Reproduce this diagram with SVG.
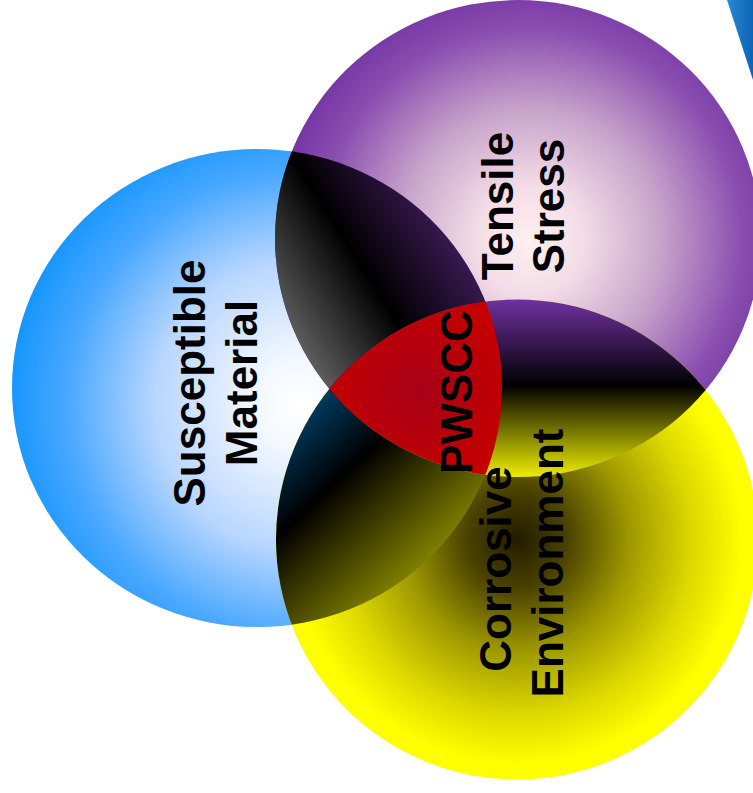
<svg xmlns="http://www.w3.org/2000/svg" width="753" height="793" viewBox="0 0 753 793">
  <style>
    .label { font-family: "Liberation Sans", Arial, Helvetica, sans-serif; font-weight: bold; font-size: 44px; fill: #000; text-anchor: middle; }
  </style>
  <defs>
    <!-- circle fills -->
    <radialGradient id="gBlue" gradientUnits="userSpaceOnUse" cx="300" cy="405" r="290">
      <stop offset="0" stop-color="#ffffff"/>
      <stop offset="0.15" stop-color="#f4f8ff"/>
      <stop offset="0.5" stop-color="#b8d6ff"/>
      <stop offset="0.8" stop-color="#4aa8ff"/>
      <stop offset="1" stop-color="#1696ff"/>
    </radialGradient>
    <radialGradient id="gPurple" gradientUnits="userSpaceOnUse" cx="530" cy="240" r="265">
      <stop offset="0" stop-color="#fff0f0"/>
      <stop offset="0.2" stop-color="#f4dde6"/>
      <stop offset="0.5" stop-color="#c6a2ca"/>
      <stop offset="0.8" stop-color="#8a4eb0"/>
      <stop offset="1" stop-color="#7030a0"/>
    </radialGradient>
    <radialGradient id="gYellow" gradientUnits="userSpaceOnUse" cx="517" cy="539" r="250">
      <stop offset="0" stop-color="#221c00"/>
      <stop offset="0.2" stop-color="#4a4200"/>
      <stop offset="0.45" stop-color="#9e9800"/>
      <stop offset="0.7" stop-color="#dcd800"/>
      <stop offset="0.9" stop-color="#ffff00"/>
    </radialGradient>
    <!-- overlap fills -->
    <linearGradient id="gBP" gradientUnits="userSpaceOnUse" x1="263" y1="287" x2="423" y2="185">
      <stop offset="0" stop-color="#5c5c5c"/>
      <stop offset="0.5" stop-color="#000000"/>
      <stop offset="1" stop-color="#3c1a55"/>
    </linearGradient>
    <linearGradient id="gBY" gradientUnits="userSpaceOnUse" x1="289" y1="417" x2="431" y2="570">
      <stop offset="0" stop-color="#004068"/>
      <stop offset="0.38" stop-color="#000000"/>
      <stop offset="1" stop-color="#8a8a00"/>
    </linearGradient>
    <linearGradient id="gPY" gradientUnits="userSpaceOnUse" x1="0" y1="300" x2="0" y2="478">
      <stop offset="0" stop-color="#7030a0"/>
      <stop offset="0.48" stop-color="#000000"/>
      <stop offset="1" stop-color="#f0f000"/>
    </linearGradient>
    <radialGradient id="gRed" gradientUnits="userSpaceOnUse" cx="420" cy="390" r="95">
      <stop offset="0" stop-color="#a80018"/>
      <stop offset="1" stop-color="#c40000"/>
    </radialGradient>
    <linearGradient id="gCorner" x1="0" y1="0" x2="1" y2="0">
      <stop offset="0" stop-color="#2a8ad2"/>
      <stop offset="1" stop-color="#0a64b4"/>
    </linearGradient>
    <!-- circle outlines reused for clipping -->
    <ellipse id="shBlue" cx="257" cy="388" rx="245" ry="239"/>
    <ellipse id="shPurple" cx="518" cy="238.5" rx="243" ry="238.5"/>
    <ellipse id="shYellow" cx="517" cy="539.5" rx="241" ry="240"/>
    <clipPath id="clipBlue"><use href="#shBlue"/></clipPath>
    <clipPath id="clipPurple"><use href="#shPurple"/></clipPath>
  </defs>

  <rect width="753" height="793" fill="#ffffff"/>

  <!-- corner accent -->
  <polygon points="727,0 753,0 753,80" fill="url(#gCorner)"/>

  <!-- the three circles -->
  <g id="material">
    <use href="#shBlue" fill="url(#gBlue)"/>
  </g>
  <g id="stress">
    <use href="#shPurple" fill="url(#gPurple)"/>
  </g>
  <g id="environment">
    <use href="#shYellow" fill="url(#gYellow)"/>
  </g>

  <!-- pairwise overlaps -->
  <g id="overlaps">
    <use href="#shPurple" fill="url(#gBP)" clip-path="url(#clipBlue)"/>
    <use href="#shYellow" fill="url(#gBY)" clip-path="url(#clipBlue)"/>
    <use href="#shYellow" fill="url(#gPY)" clip-path="url(#clipPurple)"/>
  </g>

  <!-- triple overlap -->
  <g id="pwscc">
    <g clip-path="url(#clipBlue)">
      <use href="#shYellow" fill="url(#gRed)" clip-path="url(#clipPurple)"/>
    </g>
    <text class="label" transform="translate(472,392) rotate(-90)">PWSCC</text>
  </g>

  <!-- labels -->
  <g id="material-label">
    <text class="label" transform="translate(205,383) rotate(-90)">Susceptible</text>
    <text class="label" transform="translate(257,383) rotate(-90)">Material</text>
  </g>
  <g id="stress-label">
    <text class="label" transform="translate(513,206) rotate(-90)">Tensile</text>
    <text class="label" transform="translate(564,206) rotate(-90)">Stress</text>
  </g>
  <g id="environment-label">
    <text class="label" transform="translate(511,569) rotate(-90)">Corrosive</text>
    <text class="label" transform="translate(563,563) rotate(-90)">Environment</text>
  </g>
</svg>
